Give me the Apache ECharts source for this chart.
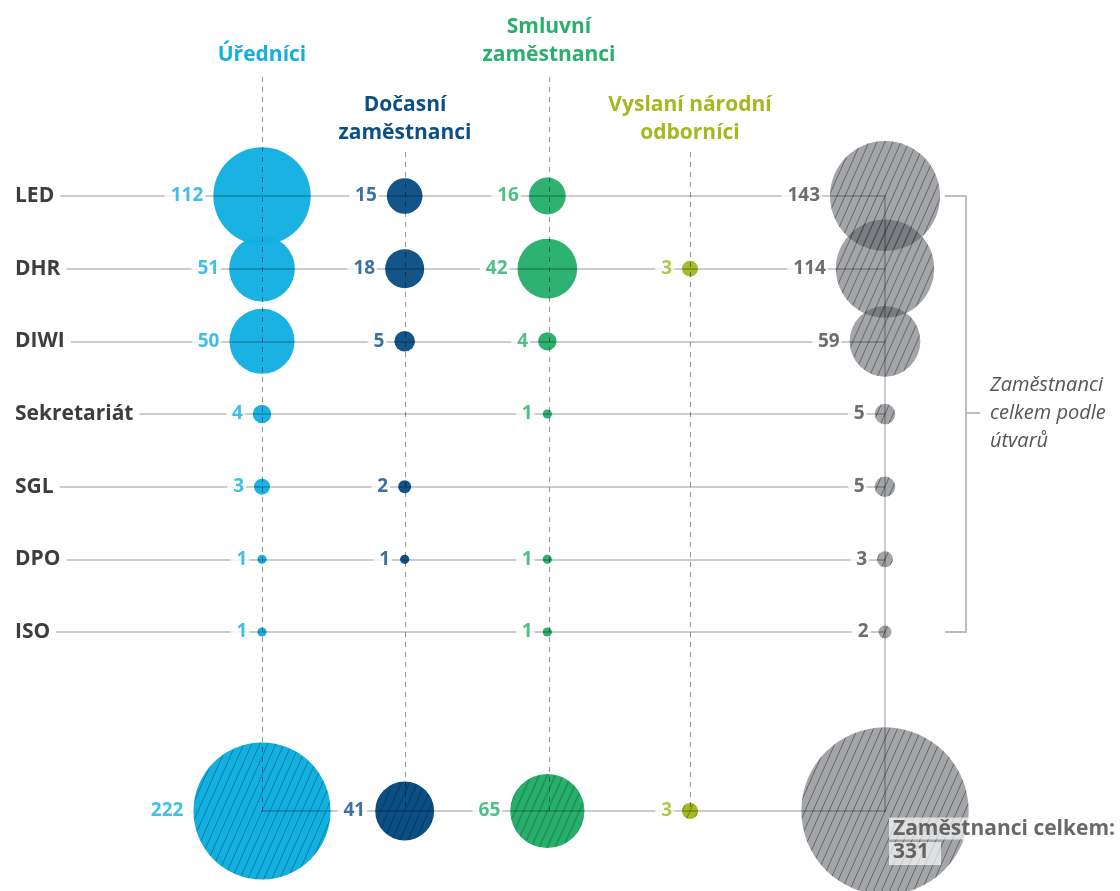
<!DOCTYPE html>
<html>
<head>
<meta charset="utf-8">
<script src="https://cdn.jsdelivr.net/npm/echarts@6/dist/echarts.min.js"></script>
<style>
  html, body { margin: 0; padding: 0; background: #fff; }
  #chart { width: 1120px; height: 891px; }
</style>
</head>
<body>
<div id="chart"></div>
<script>
// ---------- data ----------
const rowCats = ['LED', 'DHR', 'DIWI', 'Sekretariát', 'SGL', 'DPO', 'ISO'];
const typeCats = ['Úředníci', 'Dočasní zaměstnanci', 'Smluvní zaměstnanci', 'Vyslaní národní odborníci'];
const typeHeaders = ['Úředníci', 'Dočasní\nzaměstnanci', 'Smluvní\nzaměstnanci', 'Vyslaní národní\nodborníci'];
const urednici = [112, 51, 50, 4, 3, 1, 1];
const docasni  = [15, 18, 5, null, 2, 1, null];
const smluvni  = [16, 42, 4, 1, null, 1, 1];
const vyslani  = [null, 3, null, null, null, null, null];
const celkemByUnit = [143, 114, 59, 5, 5, 3, 2];
const totalsByType = [222, 41, 65, 3];
const grandTotal = 331;
const totalCat = 'Celkem';
const grandLabel = 'Zaměstnanci celkem:';
const bracketLabel = 'Zaměstnanci\ncelkem podle\nútvarů';

// ---------- styles ----------
const FONT = "'Open Sans', sans-serif";
const typeColors = ['#12b0e1', '#0b4f85', '#27af6c', '#a4b820'];
const lineColor = 'rgba(0,0,0,0.2)';
const dashColor = 'rgba(0,0,0,0.42)';
const K = 9.2; // diameter per sqrt(value)
const sizeOf = v => K * Math.sqrt(v);
const sizeFn = v => sizeOf(v[2]);

const typeVals = [urednici, docasni, smluvni, vyslani];

function hatchCanvas(fill, stroke) {
  const w = 8, h = 18;
  const c = document.createElement('canvas');
  c.width = w; c.height = h;
  const ctx = c.getContext('2d');
  ctx.fillStyle = fill;
  ctx.fillRect(0, 0, w, h);
  ctx.strokeStyle = stroke;
  ctx.lineWidth = 1;
  for (let k = -1; k <= 1; k++) {
    ctx.beginPath();
    ctx.moveTo(k * w, h);
    ctx.lineTo(k * w + w, 0);
    ctx.stroke();
  }
  return c;
}
// symbols are drawn in a 2x2 unit box scaled by size/2 -> counter-scale the pattern
const hatchFor = (canvas, value) => {
  const s = 2 / sizeOf(value);
  return { image: canvas, repeat: 'repeat', scaleX: s, scaleY: s };
};
const grayCanvas = hatchCanvas('rgba(88,91,96,0.55)', 'rgba(35,35,35,0.5)');

function bubbleData(vals, col) {
  return rowCats.map((r, i) => vals[i] == null ? null : [col, r, vals[i]]).filter(Boolean);
}
function valueLabel(color) {
  return {
    show: true, position: 'left', distance: 8,
    formatter: p => p.value[2],
    color: color, fontFamily: FONT, fontSize: 19, fontWeight: 'bold',
    backgroundColor: '#fff', padding: [1, 2, 1, 6]
  };
}

const hidden = { show: false };
const rowY = (gi) => ({ type: 'category', gridIndex: gi, data: rowCats, boundaryGap: false, inverse: true, show: false });

const grid = [
  { left: 15, right: 235, top: 196, bottom: 259 },   // 0 row lines + labels
  { left: 262, right: 430, top: 196, bottom: 259 },  // 1 body
  { left: 835, right: 185, top: 196, bottom: 259 },  // 2 total column
  { left: 262, right: 430, top: 775, bottom: 44 },   // 3 total row
  { left: 835, right: 185, top: 775, bottom: 44 },   // 4 grand total
  { left: 262, right: 235, top: 196, bottom: 80 },   // 5 frame
  { left: 262, right: 571, top: 77, bottom: 80 },    // 6 columns A
  { left: 405, right: 430, top: 152, bottom: 80 }    // 7 columns B
];

function headerAxis(gi, idxs, margin) {
  return {
    type: 'category', gridIndex: gi, position: 'top', boundaryGap: false, z: 3,
    data: idxs.map(i => typeCats[i]),
    axisLine: { show: false }, axisTick: { show: false },
    axisLabel: {
      interval: 0, margin: margin,
      formatter: (v) => {
        const i = typeCats.indexOf(v);
        return typeHeaders[i].split('\n').map(s => '{c' + i + '|' + s + '}').join('\n');
      },
      rich: Object.fromEntries(typeColors.map((c, i) => ['c' + i, {
        color: c, fontFamily: FONT, fontSize: 21, fontWeight: 'bold', lineHeight: 28, align: 'center'
      }]))
    },
    splitLine: { show: true, interval: 0, lineStyle: { color: dashColor, width: 1, type: [5, 5] } }
  };
}

const xAxis = [
  { type: 'value', gridIndex: 0, show: false },
  { type: 'category', gridIndex: 1, data: typeCats, boundaryGap: false, show: false },
  { type: 'category', gridIndex: 2, data: [totalCat], show: false },
  { type: 'category', gridIndex: 3, data: typeCats, boundaryGap: false, show: false },
  { type: 'category', gridIndex: 4, data: [totalCat], show: false },
  { type: 'value', gridIndex: 5, min: 0, max: 1, z: 3,
    axisLine: { show: true, onZero: false, lineStyle: { color: lineColor, width: 2 } },
    axisTick: hidden, axisLabel: hidden, splitLine: hidden },
  headerAxis(6, [0, 2], 8),
  headerAxis(7, [1, 3], 5)
];

const yAxis = [
  { type: 'category', gridIndex: 0, data: rowCats, boundaryGap: false, inverse: true, z: 3,
    axisLine: hidden, axisTick: hidden,
    splitLine: { show: true, interval: 0, lineStyle: { color: lineColor, width: 2 } },
    axisLabel: { inside: true, margin: 0, interval: 0, fontFamily: FONT, fontSize: 21, fontWeight: 'bold',
      color: '#3d3d3d', backgroundColor: '#fff', padding: [2, 6, 2, 0] } },
  rowY(1),
  rowY(2),
  { type: 'category', gridIndex: 3, data: [totalCat], show: false },
  { type: 'category', gridIndex: 4, data: [totalCat], show: false },
  { type: 'value', gridIndex: 5, min: 0, max: 1, position: 'right', z: 3,
    axisLine: { show: true, onZero: false, lineStyle: { color: lineColor, width: 2 } },
    axisTick: hidden, axisLabel: hidden, splitLine: hidden },
  { type: 'value', gridIndex: 6, show: false },
  { type: 'value', gridIndex: 7, show: false }
];

const series = [];
typeCats.forEach((t, ti) => {
  const data = bubbleData(typeVals[ti], t);
  series.push({ type: 'scatter', xAxisIndex: 1, yAxisIndex: 1, z: 2, silent: true, data,
    symbolSize: sizeFn, itemStyle: { color: typeColors[ti], opacity: 0.97 } });
  series.push({ type: 'scatter', xAxisIndex: 1, yAxisIndex: 1, z: 5, silent: true, data,
    symbolSize: sizeFn, itemStyle: { color: 'transparent' }, label: valueLabel(typeColors[ti]) });
});

// total column (per unit)
const unitData = rowCats.map((r, i) => [totalCat, r, celkemByUnit[i]]);
series.push({ type: 'scatter', xAxisIndex: 2, yAxisIndex: 2, z: 2, silent: true,
  data: unitData.map(v => ({ value: v, itemStyle: { color: hatchFor(grayCanvas, v[2]) } })),
  symbolSize: sizeFn, itemStyle: { opacity: 1 } });
series.push({ type: 'scatter', xAxisIndex: 2, yAxisIndex: 2, z: 5, silent: true, data: unitData,
  symbolSize: sizeFn, itemStyle: { color: 'transparent' }, label: valueLabel('#4a4a4a') });

// total row (per type)
const typeTotalData = typeCats.map((t, i) => [t, totalCat, totalsByType[i]]);
series.push({ type: 'scatter', xAxisIndex: 3, yAxisIndex: 3, z: 2, silent: true,
  data: typeTotalData.map((v, i) => ({ value: v,
    itemStyle: { color: hatchFor(hatchCanvas(typeColors[i], 'rgba(0,0,0,0.3)'), v[2]) } })),
  symbolSize: sizeFn, itemStyle: { opacity: 1 } });
series.push({ type: 'scatter', xAxisIndex: 3, yAxisIndex: 3, z: 5, silent: true,
  data: typeTotalData.map((v, i) => ({ value: v, label: { color: typeColors[i] } })),
  symbolSize: sizeFn, itemStyle: { color: 'transparent' }, label: valueLabel('#333') });

// grand total
const grandData = [[totalCat, totalCat, grandTotal]];
series.push({ type: 'scatter', xAxisIndex: 4, yAxisIndex: 4, z: 2, silent: true,
  data: grandData.map(v => ({ value: v, itemStyle: { color: hatchFor(grayCanvas, v[2]) } })),
  symbolSize: sizeFn, itemStyle: { opacity: 1 } });
series.push({ type: 'scatter', xAxisIndex: 4, yAxisIndex: 4, z: 5, silent: true, data: grandData,
  symbolSize: sizeFn, itemStyle: { color: 'transparent' },
  label: { show: true, position: ['50%', '50%'], align: 'left', verticalAlign: 'top', offset: [4, 5],
    formatter: p => '{a|' + grandLabel + '}\n{b|' + p.value[2] + '}',
    rich: {
      a: { fontFamily: FONT, fontSize: 21, fontWeight: 'bold', color: '#444', lineHeight: 25,
        backgroundColor: 'rgba(255,255,255,0.82)', padding: [1, 4, 0, 4] },
      b: { fontFamily: FONT, fontSize: 21, fontWeight: 'bold', color: '#444', lineHeight: 25,
        backgroundColor: 'rgba(255,255,255,0.82)', padding: [0, 12, 2, 4] }
    } } });

const chart = echarts.init(document.getElementById('chart'), null, { renderer: 'canvas' });
chart.setOption({
  animation: false,
  backgroundColor: '#fff',
  grid, xAxis, yAxis, series,
  graphic: [
    { type: 'polyline', silent: true, shape: { points: [[945, 196], [966, 196], [966, 632], [945, 632]] },
      style: { stroke: '#bdbdbd', lineWidth: 2, fill: null } },
    { type: 'line', silent: true, shape: { x1: 966, y1: 413, x2: 980, y2: 413 },
      style: { stroke: '#bdbdbd', lineWidth: 2 } },
    { type: 'text', silent: true, x: 990, y: 413,
      style: { text: bracketLabel, fontFamily: FONT, fontSize: 20, fontStyle: 'italic', fill: '#555',
        lineHeight: 28, verticalAlign: 'middle', align: 'left' } }
  ]
});
</script>
</body>
</html>
